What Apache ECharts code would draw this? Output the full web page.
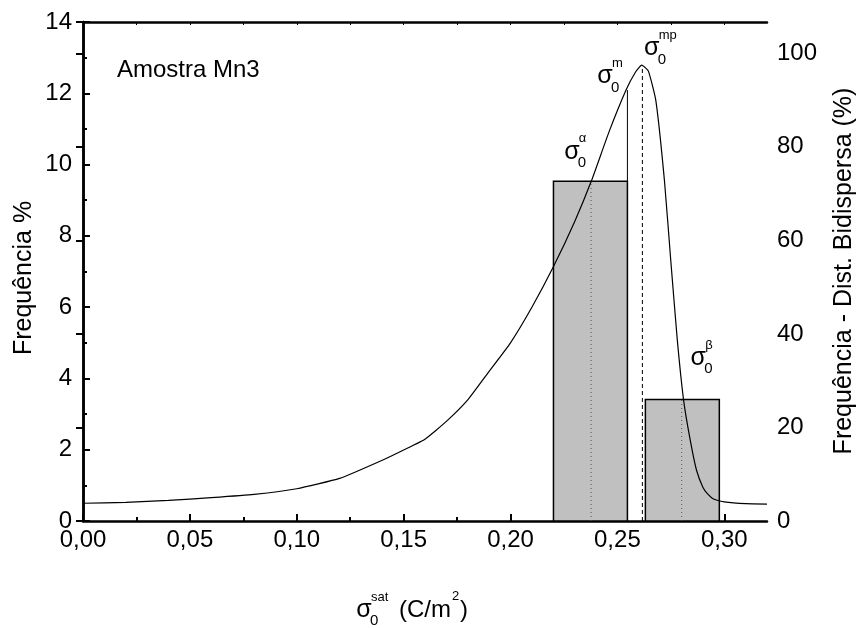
<!DOCTYPE html>
<html>
<head>
<meta charset="utf-8">
<script src="https://cdn.jsdelivr.net/npm/echarts@6.0.0/dist/echarts.min.js"></script>
<style>
html, body { margin: 0; background: #fff; }
#chart { width: 860px; height: 628px; }
</style>
</head>
<body>
<div id="chart"></div>
<script>
// histograma: [inicio, fim, frequencia %]
const bins = [
  [0.2201, 0.2547, 9.53],
  [0.2631, 0.2977, 3.41]
];
// distribuicao bidispersa (eixo direito, %)
const curveX = [0, 0.02, 0.04, 0.06, 0.08, 0.10, 0.12, 0.14, 0.15, 0.16, 0.17, 0.18, 0.19, 0.20,
  0.21, 0.22, 0.23, 0.238, 0.246, 0.254, 0.2585, 0.2614, 0.2645, 0.268, 0.272, 0.275, 0.278,
  0.281, 0.284, 0.287, 0.290, 0.292, 0.295, 0.300, 0.31, 0.32];
const curveY = [3.8, 4.0, 4.4, 5.0, 5.7, 6.9, 9.1, 13.0, 15.2, 17.5, 21.3, 25.9, 32.0, 38.1,
  45.7, 54.3, 64.0, 72.9, 83.1, 92.1, 96.0, 97.5, 96.2, 89.9, 72.9, 55.6, 38.9,
  25.8, 17.5, 10.9, 7.2, 5.9, 4.7, 4.1, 3.7, 3.6];
// linhas verticais: [x, y0, y1, estilo] (eixo esquerdo)
const markers = [
  [0.2377, 0, 9.53, 'dotted'],
  [0.2547, 9.53, 12.09, 'solid'],
  [0.2617, 0, 12.79, 'dashed'],
  [0.2801, 0, 3.41, 'dotted']
];
// rotulos sigma: [x, y, indice superior]
const sigmaLabels = [
  [0.2287, 10.36, 'α'],
  [0.2442, 12.47, 'm'],
  [0.2661, 13.26, 'mp'],
  [0.2878, 4.57, 'β']
];
const xMajor = [0, 0.05, 0.10, 0.15, 0.20, 0.25, 0.30];
const xMinor = [0.025, 0.075, 0.125, 0.175, 0.225, 0.275];

const FONT = '"Liberation Sans", Arial, sans-serif';
const myChart = echarts.init(document.getElementById('chart'));

const curveData = curveX.map((x, i) => [x, curveY[i]]);
const topTicks = xMajor.concat(xMinor).filter(v => v > 0);

// sigma com subscrito 0 e sobrescrito
function sigmaGroup(x, y, sup) {
  return {
    type: 'group', x: x, y: y,
    children: [
      { type: 'text', style: { text: 'σ', x: 0, y: 0, font: '25px ' + FONT, fill: '#000', align: 'center', verticalAlign: 'middle' } },
      { type: 'text', style: { text: '0', x: 6, y: 11, font: '15px ' + FONT, fill: '#000', align: 'left', verticalAlign: 'middle' } },
      { type: 'text', style: { text: sup, x: 7, y: -13, font: '13px ' + FONT, fill: '#000', align: 'left', verticalAlign: 'middle' } }
    ]
  };
}

const xTitle = sigmaGroup(0, 0, 'sat');
xTitle.x = 364;
xTitle.y = 610;
xTitle.children.push(
  { type: 'text', style: { text: '(C/m', x: 35, y: 0, font: '24px ' + FONT, fill: '#000', align: 'left', verticalAlign: 'middle' } },
  { type: 'text', style: { text: '2', x: 88, y: -14, font: '13px ' + FONT, fill: '#000', align: 'left', verticalAlign: 'middle' } },
  { type: 'text', style: { text: ')', x: 96, y: 0, font: '24px ' + FONT, fill: '#000', align: 'left', verticalAlign: 'middle' } }
);

const option = {
  animation: false,
  grid: { left: 83, right: 93, top: 22, bottom: 107 },
  xAxis: [
    {
      type: 'value', min: 0, max: 0.32, interval: 0.05, position: 'bottom',
      splitLine: { show: false },
      axisLine: { lineStyle: { color: '#000', width: 2.5 } },
      axisTick: { inside: true, length: 7, customValues: xMajor, lineStyle: { color: '#000', width: 2 } },
      axisLabel: {
        customValues: xMajor, margin: 7, color: '#000', fontSize: 24, fontFamily: FONT,
        formatter: v => v.toFixed(2).replace('.', ',')
      }
    },
    {
      type: 'value', min: 0, max: 0.32, position: 'bottom',
      splitLine: { show: false },
      axisLine: { show: false },
      axisTick: { inside: true, length: 4, customValues: xMinor, lineStyle: { color: '#000', width: 2 } },
      axisLabel: { show: false }
    },
    {
      type: 'value', min: 0, max: 0.32, position: 'top',
      splitLine: { show: false },
      axisLine: { lineStyle: { color: '#000', width: 2.5 } },
      axisTick: { inside: true, length: 3, customValues: topTicks, lineStyle: { color: '#000', width: 1 } },
      axisLabel: { show: false }
    }
  ],
  yAxis: [
    {
      type: 'value', min: 0, max: 14, interval: 2, position: 'left',
      splitLine: { show: false },
      axisLine: { show: true, lineStyle: { color: '#000', width: 2.5 } },
      axisTick: { inside: true, length: 7, lineStyle: { color: '#000', width: 2 } },
      minorTick: { show: true, splitNumber: 2, length: 4, lineStyle: { color: '#000', width: 2 } },
      axisLabel: { margin: 11, color: '#000', fontSize: 24, fontFamily: FONT }
    },
    {
      type: 'value', min: 0, max: 106.7, interval: 20, position: 'right',
      splitLine: { show: false },
      axisLine: { show: true, lineStyle: { color: '#000', width: 2.5 } },
      axisTick: { inside: true, length: 7, lineStyle: { color: '#000', width: 2 } },
      axisLabel: {
        margin: 10, color: '#000', fontSize: 24, fontFamily: FONT,
        formatter: v => (v % 20 === 0 ? String(v) : '')
      }
    }
  ],
  graphic: [
    { type: 'text', left: 117, top: 58, style: { text: 'Amostra Mn3', font: '24px ' + FONT, fill: '#000' } },
    {
      type: 'text', x: 24, y: 278, rotation: Math.PI / 2,
      style: { text: 'Frequência %', font: '25px ' + FONT, fill: '#000', align: 'center', verticalAlign: 'middle' }
    },
    {
      type: 'text', x: 844, y: 271, rotation: Math.PI / 2,
      style: { text: 'Frequência - Dist. Bidispersa (%)', font: '25px ' + FONT, fill: '#000', align: 'center', verticalAlign: 'middle' }
    },
    xTitle
  ],
  series: [
    {
      // barras do histograma
      type: 'custom', xAxisIndex: 0, yAxisIndex: 0,
      data: bins,
      encode: { x: [0, 1], y: 2 },
      renderItem: function (params, api) {
        const p0 = api.coord([api.value(0), api.value(2)]);
        const p1 = api.coord([api.value(1), 0]);
        return {
          type: 'rect',
          shape: { x: p0[0], y: p0[1], width: p1[0] - p0[0], height: p1[1] - p0[1] },
          style: { fill: '#c0c0c0', stroke: '#000', lineWidth: 1.5 }
        };
      },
      z: 2
    },
    {
      type: 'line', xAxisIndex: 0, yAxisIndex: 1,
      data: curveData,
      showSymbol: false, symbol: 'none',
      smooth: 0.15,
      lineStyle: { color: '#000', width: 1.2 },
      z: 4
    },
    {
      // linhas verticais
      type: 'custom', xAxisIndex: 0, yAxisIndex: 0,
      data: markers.map(m => [m[0], m[1], m[2]]),
      encode: { x: 0, y: [1, 2] },
      renderItem: function (params, api) {
        const kind = markers[params.dataIndex][3];
        const a = api.coord([api.value(0), api.value(1)]);
        const b = api.coord([api.value(0), api.value(2)]);
        let style = { stroke: '#000', lineWidth: 1 };
        if (kind === 'dotted') style = { stroke: '#555', lineWidth: 1, lineDash: [1, 3] };
        if (kind === 'dashed') style = { stroke: '#000', lineWidth: 1, lineDash: [4, 3] };
        return { type: 'line', shape: { x1: a[0], y1: a[1], x2: b[0], y2: b[1] }, style: style };
      },
      z: 3
    },
    {
      // rotulos sigma
      type: 'custom', xAxisIndex: 0, yAxisIndex: 0,
      data: sigmaLabels.map(s => [s[0], s[1]]),
      encode: { x: 0, y: 1 },
      renderItem: function (params, api) {
        const p = api.coord([api.value(0), api.value(1)]);
        return sigmaGroup(p[0], p[1], sigmaLabels[params.dataIndex][2]);
      },
      z: 5
    }
  ]
};

myChart.setOption(option);
</script>
</body>
</html>
